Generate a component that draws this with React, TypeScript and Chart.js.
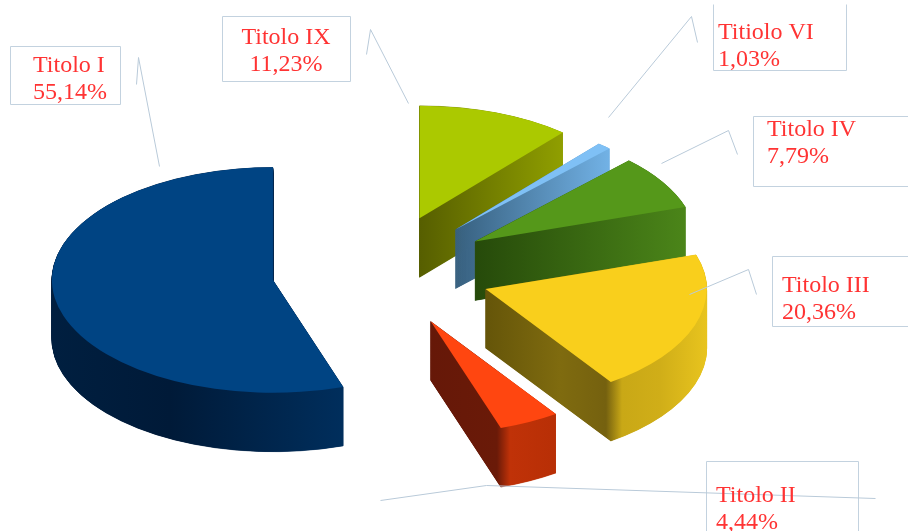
import React, { useEffect, useRef } from "react";
import { Chart, registerables } from "chart.js";

Chart.register(...registerables);

// ---- data (clockwise from twelve o'clock) ----
const categories = ["Titolo IX", "Titiolo VI", "Titolo IV", "Titolo III", "Titolo II", "Titolo I"];
const shares = [11.23, 1.03, 7.79, 20.36, 4.44, 55.14];

// ---- styles ----
const topColors = ["#abc900", "#7fc0f5", "#55981a", "#f9cf1c", "#ff4610", "#004483"];
const wallShades: [number, string][][] = [
  [[419, "#565e00"], [563, "#909f00"]],
  [[456, "#37607f"], [610, "#72b2e6"]],
  [[475, "#264a0a"], [685, "#4b8519"]],
  [[486, "#655509"], [560, "#7f6b0f"], [606, "#75610f"], [622, "#c9a816"], [660, "#d0ae18"], [707, "#e8c41e"]],
  [[431, "#661808"], [497, "#6a1a08"], [510, "#c03208"], [555, "#b82f06"]],
  [[52, "#001f40"], [170, "#001a38"], [342, "#002e5c"]],
];

// ---- layout ----
const CANVAS_W = 908;
const CANVAS_H = 531;
const CX = 381.5;
const CY = 271;
const RADIUS = 221;
const SQUASH = 0.51;
const DEPTH = 59;
const DEPTH_STEP = 0.25;
const EXPLODE = 110;
const WALL_EDGE = 0.5;

const textColor = "#ff3333";
const leaderColor = "#b9cad9";
const boxColor = "#c3d2df";

type Note = {
  name: number;
  align: CanvasTextAlign;
  x: number;
  baselines: [number, number];
  box: [number, number][];
  leader: [number, number][];
};

const notes: Note[] = [
  { name: 5, align: "left", x: 33, baselines: [72, 99],
    box: [[10, 46], [120, 46], [120, 104], [10, 104], [10, 46]],
    leader: [[159, 166], [138, 57], [136, 84]] },
  { name: 0, align: "center", x: 286, baselines: [44, 71],
    box: [[222, 16], [350, 16], [350, 81], [222, 81], [222, 16]],
    leader: [[408, 103], [370, 29], [366, 54]] },
  { name: 1, align: "left", x: 718, baselines: [39, 66],
    box: [[713, 4], [713, 70], [846, 70], [846, 4]],
    leader: [[608, 117], [691, 16], [697, 42]] },
  { name: 2, align: "left", x: 767, baselines: [136, 163],
    box: [[908, 116], [753, 116], [753, 186], [908, 186]],
    leader: [[661, 163], [728, 130], [737, 154]] },
  { name: 3, align: "left", x: 782, baselines: [292, 319],
    box: [[908, 256], [772, 256], [772, 326], [908, 326]],
    leader: [[689, 294], [748, 269], [756, 294]] },
  { name: 4, align: "left", x: 716, baselines: [502, 529],
    box: [[706, 531], [706, 461], [858, 461], [858, 531]],
    leader: [[380, 500], [486, 485], [875, 498]] },
];

const formatShare = (v: number) => v.toFixed(2).replace(".", ",") + "%";

const polyline = (ctx: CanvasRenderingContext2D, pts: [number, number][]) => {
  ctx.beginPath();
  pts.forEach(([x, y], i) => (i ? ctx.lineTo(x + 0.5, y + 0.5) : ctx.moveTo(x + 0.5, y + 0.5)));
  ctx.stroke();
};

const extrudedPie = {
  id: "extrudedPie",
  beforeDatasetsDraw(chart: any) {
    const ctx: CanvasRenderingContext2D = chart.ctx;
    const arcs = chart.getDatasetMeta(0).data;
    arcs.forEach((arc: any, i: number) => {
      const base = arc.options;
      const stops = wallShades[i];
      const x0 = stops[0][0];
      const x1 = stops[stops.length - 1][0];
      const mid = (arc.startAngle + arc.endAngle) / 2;
      const shiftX = Math.cos(mid) * EXPLODE;
      const shiftY = Math.sin(mid) * EXPLODE;
      const paint = (dy: number, fill: () => any, edge: number) => {
        ctx.save();
        ctx.translate(CX, CY + dy);
        ctx.scale(1, SQUASH);
        ctx.translate(-CX, -CY);
        ctx.translate(shiftX, shiftY);
        const f = fill();
        arc.options = { ...base, backgroundColor: f, borderColor: f, borderWidth: edge };
        arc.draw(ctx);
        ctx.restore();
      };
      const wall = () => {
        // the gradient lives in the slice's shifted space, so undo the shift in its stops
        const grad = ctx.createLinearGradient(x0 - shiftX, 0, x1 - shiftX, 0);
        stops.forEach(([x, c]) => grad.addColorStop((x - x0) / (x1 - x0), c));
        return grad;
      };
      for (let dy = DEPTH; dy > 0; dy -= DEPTH_STEP) paint(dy, wall, WALL_EDGE);
      paint(0, () => topColors[i], 0);
      arc.options = base;
    });
    return false;
  },
  afterDraw(chart: any) {
    const ctx: CanvasRenderingContext2D = chart.ctx;
    ctx.save();
    ctx.lineWidth = 1;
    notes.forEach((n) => {
      ctx.strokeStyle = boxColor;
      polyline(ctx, n.box);
      ctx.strokeStyle = leaderColor;
      polyline(ctx, n.leader);
    });
    ctx.fillStyle = textColor;
    ctx.font = '24px "Liberation Serif"';
    ctx.textBaseline = "alphabetic";
    notes.forEach((n) => {
      ctx.textAlign = n.align;
      ctx.fillText(categories[n.name], n.x, n.baselines[0]);
      ctx.fillText(formatShare(shares[n.name]), n.x, n.baselines[1]);
    });
    ctx.restore();
  },
};

export default function App() {
  const ref = useRef<HTMLCanvasElement>(null);
  useEffect(() => {
    const chart = new Chart(ref.current as HTMLCanvasElement, {
      type: "pie",
      data: {
        labels: categories,
        datasets: [
          {
            data: shares,
            backgroundColor: topColors,
            borderWidth: 0,
            offset: 0,
            radius: RADIUS,
          } as any,
        ],
      },
      options: {
        responsive: false,
        animation: false,
        events: [],
        layout: { padding: { top: 2 * CY - CANVAS_H, right: CANVAS_W - 2 * CX, left: 0, bottom: 0 } },
        plugins: { legend: { display: false }, tooltip: { enabled: false }, title: { display: false } },
      },
      plugins: [extrudedPie],
    } as any);
    return () => chart.destroy();
  }, []);
  return (
    <div style={{ position: "fixed", left: 0, top: 0, width: CANVAS_W, height: CANVAS_H, background: "#fff" }}>
      <canvas ref={ref} width={CANVAS_W} height={CANVAS_H} style={{ display: "block" }} />
    </div>
  );
}
